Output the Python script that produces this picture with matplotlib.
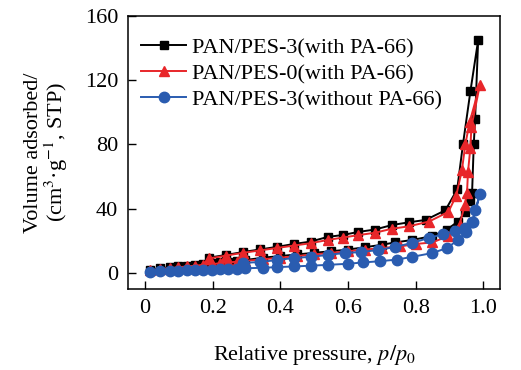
#!/usr/bin/env python
import matplotlib
matplotlib.use('Agg')
import matplotlib.pyplot as plt

# low pressure points shared by the adsorption branches
x_low = [0.015, 0.044, 0.074, 0.098, 0.124, 0.148, 0.172, 0.198, 0.222, 0.246, 0.272, 0.296]

# PAN/PES-3 (with PA-66)
pes3_ads_x = x_low + [0.35, 0.40, 0.45, 0.50, 0.55, 0.60, 0.65, 0.70, 0.74, 0.79, 0.85, 0.893,
                      0.925, 0.947, 0.962, 0.967, 0.972, 0.976, 0.985]
pes3_ads_y = [2, 3, 3.5, 4, 4.5, 5, 5.5, 6, 6.5, 7, 7.5, 8,
              9.5, 10.5, 11.5, 12.5, 13.5, 14.5, 16, 17.5, 19, 20.5, 23, 27,
              32, 38, 45, 50, 80, 96, 145]
pes3_des_x = [0.962, 0.94, 0.923, 0.888, 0.83, 0.78, 0.73, 0.68, 0.63, 0.585, 0.54, 0.49,
              0.44, 0.39, 0.34, 0.29, 0.24, 0.19]
pes3_des_y = [113, 80, 52, 39, 33, 31.5, 29.8, 27, 25.5, 23.6, 22.4, 19.5,
              18, 16.2, 14.6, 13, 11.2, 9.5]

# PAN/PES-0 (with PA-66)
pes0_ads_x = x_low + [0.35, 0.40, 0.45, 0.50, 0.55, 0.60, 0.65, 0.70, 0.755, 0.80, 0.85, 0.897,
                      0.93, 0.945, 0.952, 0.955, 0.962, 0.965, 0.99]
pes0_ads_y = [1.5, 2.5, 3, 3.5, 4, 4.5, 5, 5.5, 6, 6.5, 7, 7.5,
              8.5, 9.5, 10.5, 11.5, 12.5, 13.5, 14.5, 15.5, 16.5, 18, 19, 23,
              30, 42, 50, 63, 78, 91, 117]
pes0_des_x = [0.96, 0.947, 0.937, 0.92, 0.897, 0.84, 0.78, 0.73, 0.68, 0.63, 0.585, 0.54,
              0.49, 0.44, 0.39, 0.34, 0.29, 0.24, 0.19]
pes0_des_y = [94, 80, 64, 48, 38, 32, 29, 27.5, 25, 23.5, 22, 20.5,
              18.5, 17, 15.5, 14, 12.5, 10.8, 9]

# PAN/PES-3 (without PA-66)
nopa_ads_x = x_low + [0.35, 0.39, 0.44, 0.49, 0.54, 0.60, 0.645, 0.695, 0.745, 0.79, 0.85, 0.893,
                      0.925, 0.95, 0.97, 0.99]
nopa_ads_y = [0.6, 0.9, 1.1, 1.3, 1.5, 1.7, 1.9, 2.1, 2.3, 2.5, 2.7, 2.9,
              3.2, 3.6, 4.0, 4.5, 5.0, 5.7, 6.5, 7.3, 8.3, 10, 12.4, 15.5,
              20.5, 25.5, 32, 49]
nopa_des_x = [0.976, 0.967, 0.947, 0.917, 0.88, 0.84, 0.79, 0.74, 0.69, 0.64, 0.59, 0.54,
              0.49, 0.44, 0.39, 0.34, 0.29]
nopa_des_y = [39, 32, 28, 26, 24, 21.8, 18.7, 16.2, 14.3, 13, 12.4, 11.2,
              10, 9.3, 8, 6.8, 6.2]

labels = ['PAN/PES-3(with PA-66)', 'PAN/PES-0(with PA-66)', 'PAN/PES-3(without PA-66)']
x_ticks = [0, 0.2, 0.4, 0.6, 0.8, 1.0]
x_ticklabels = ['0', '0.2', '0.4', '0.6', '0.8', '1.0']
y_ticks = [0, 40, 80, 120, 160]

plt.rcParams['font.family'] = ['Liberation Serif', 'DejaVu Serif']
plt.rcParams['mathtext.fontset'] = 'stix'

fig = plt.figure(figsize=(5.21, 3.70), dpi=100)
ax = fig.add_axes([0.2457, 0.219, 0.7143, 0.738])

ax.plot(pes3_ads_x + pes3_des_x, pes3_ads_y + pes3_des_y, color='black', marker='s',
        ms=6, lw=1.4, label=labels[0])
ax.plot(pes0_ads_x + pes0_des_x, pes0_ads_y + pes0_des_y, color='#e8262a', marker='^',
        ms=7.5, lw=1.4, label=labels[1])
ax.plot(nopa_ads_x + nopa_des_x, nopa_ads_y + nopa_des_y, color='#2a5cb0', marker='o',
        ms=7.5, lw=1.4, label=labels[2])

ax.set_xlim(-0.05, 1.05)
ax.set_ylim(-10, 160)
ax.set_xticks(x_ticks)
ax.set_xticklabels(x_ticklabels)
ax.set_yticks(y_ticks)
ax.tick_params(direction='in', length=6, width=1, labelsize=16, pad=7)
for s in ax.spines.values():
    s.set_linewidth(1.1)

ax.set_xlabel(r'Relative pressure, $p/p_0$', fontsize=16, labelpad=18)
ax.set_ylabel('Volume adsorbed/\n' + r'(cm$^3$·g$^{-1}$, STP)', fontsize=16,
              labelpad=11, linespacing=0.95)

ax.legend(loc='upper left', bbox_to_anchor=(0.0, 0.97), frameon=False, fontsize=16,
          handlelength=2.0, handletextpad=0.3, labelspacing=0.25, borderaxespad=0.2)

fig.savefig('out.png', dpi=100)
